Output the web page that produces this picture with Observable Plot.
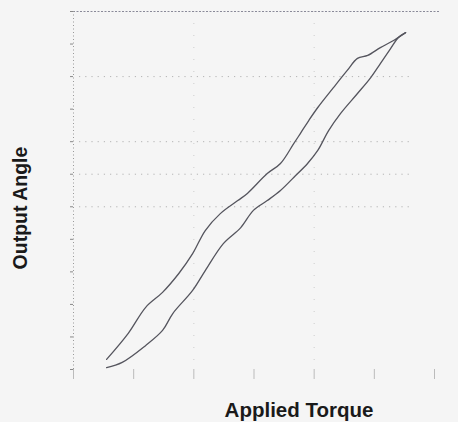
<!DOCTYPE html>
<html>
<head>
<meta charset="utf-8">
<script src="https://cdn.jsdelivr.net/npm/d3@7"></script>
<script src="https://cdn.jsdelivr.net/npm/@observablehq/plot@0.6"></script>
<style>
  html, body { margin: 0; padding: 0; background: #f5f5f5; }
  #chart { width: 458px; height: 422px; }
</style>
</head>
<body>
<div id="chart"></div>
<script>
// Hysteresis loop: upper branch and lower branch
const upperTorque = [0.55, 0.91, 1.20, 1.48, 1.75, 1.98, 2.19, 2.44, 2.73, 2.89, 3.22, 3.44, 3.66, 3.77, 3.91, 4.06, 4.32, 4.55, 4.72, 4.89, 5.10, 5.32, 5.52];
const upperAngle  = [0.31, 1.11, 1.91, 2.37, 2.95, 3.56, 4.27, 4.79, 5.19, 5.41, 6.02, 6.33, 6.94, 7.25, 7.65, 8.05, 8.66, 9.19, 9.56, 9.65, 9.89, 10.11, 10.35];
const lowerTorque = [0.55, 0.81, 1.20, 1.48, 1.65, 1.98, 2.19, 2.49, 2.78, 2.99, 3.22, 3.44, 3.66, 3.89, 4.06, 4.24, 4.44, 4.72, 4.94, 5.10, 5.27, 5.40, 5.52];
const lowerAngle  = [0.06, 0.22, 0.74, 1.20, 1.72, 2.43, 3.04, 3.87, 4.36, 4.89, 5.19, 5.50, 5.90, 6.33, 6.73, 7.34, 7.87, 8.48, 8.97, 9.40, 9.86, 10.20, 10.35];

const xTicks = [0, 1, 2, 3, 4, 5, 6];
const yTicks = [0, 1, 2, 3, 4, 5, 6, 7, 8, 9, 10, 11];
const gridY = [5, 6, 7, 9];
const gridX = [2, 4];
const xLabel = "Applied Torque";
const yLabel = "Output Angle";

const upper = upperTorque.map((t, i) => ({torque: t, angle: upperAngle[i]}));
const lower = lowerTorque.map((t, i) => ({torque: t, angle: lowerAngle[i]}));

const chart = Plot.plot({
  width: 458,
  height: 422,
  marginLeft: 73,
  marginRight: 24,
  marginTop: 11,
  marginBottom: 53,
  style: {background: "#f5f5f5"},
  x: {domain: [0, 6]},
  y: {domain: [0, 11]},
  marks: [
    Plot.ruleY(gridY, {x1: 0.1, x2: 5.6, stroke: "#999", strokeWidth: 1, strokeDasharray: "1.2,5", strokeOpacity: 0.7}),
    Plot.ruleX(gridX, {stroke: "#bbb", strokeWidth: 1, strokeDasharray: "1,11", strokeOpacity: 0.7}),
    Plot.ruleY([11], {x1: 0, x2: 6.1, stroke: "#8a8a99", strokeWidth: 1, strokeDasharray: "2,1.5"}),
    Plot.ruleX([0], {stroke: "#999", strokeWidth: 1, strokeDasharray: "1,2.5"}),
    Plot.axisY({ticks: yTicks, tickSize: 3, tickFormat: () => "", stroke: "#888", label: null}),
    Plot.axisX({ticks: xTicks, tickSize: 10, tickPadding: 0, tickFormat: () => "", stroke: "#bbb", label: null}),
    Plot.line(upper, {x: "torque", y: "angle", curve: "catmull-rom", stroke: "#55555e", strokeWidth: 1.3}),
    Plot.line(lower, {x: "torque", y: "angle", curve: "catmull-rom", stroke: "#55555e", strokeWidth: 1.3})
  ]
});

const svg = d3.select(chart);
svg.append("text")
  .attr("x", 299).attr("y", 417)
  .attr("text-anchor", "middle")
  .attr("font-family", "Liberation Sans, Arial, sans-serif")
  .attr("font-weight", "bold")
  .attr("font-size", 20.5)
  .attr("fill", "#1a1a1a")
  .text(xLabel);
svg.append("text")
  .attr("transform", "translate(27,208) rotate(-90)")
  .attr("text-anchor", "middle")
  .attr("font-family", "Liberation Sans, Arial, sans-serif")
  .attr("font-weight", "bold")
  .attr("font-size", 19.5)
  .attr("fill", "#1a1a1a")
  .text(yLabel);

document.getElementById("chart").appendChild(chart);
</script>
</body>
</html>
